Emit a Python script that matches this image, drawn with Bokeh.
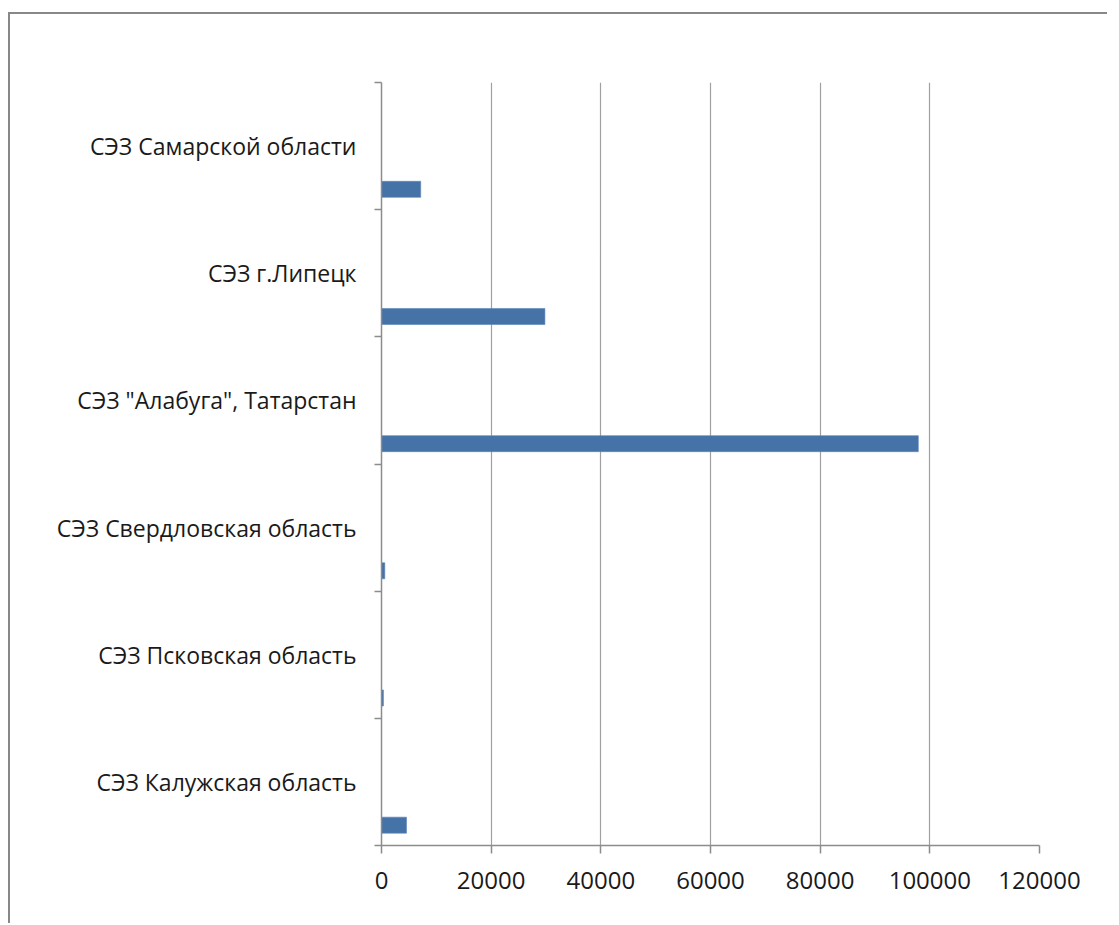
from bokeh.plotting import figure
from bokeh.models import Range1d, FixedTicker, ColumnDataSource, BasicTickFormatter
from bokeh.transform import dodge
from bokeh.embed import file_html
from bokeh.resources import INLINE

categories = [
    "СЭЗ Калужская область",
    "СЭЗ Псковская область",
    "СЭЗ Свердловская область",
    'СЭЗ "Алабуга", Татарстан',
    "СЭЗ г.Липецк",
    "СЭЗ Самарской области",
]
values = [4560, 350, 600, 97900, 29800, 7150]
x_ticks = [0, 20000, 40000, 60000, 80000, 100000, 120000]

n = len(categories)
pos = list(range(n))
src = ColumnDataSource(dict(cat=categories, val=values, pos=pos))

GRAY = "#8c8c8c"
FONT = "Open Sans"

p = figure(
    output_backend="svg",
    toolbar_location=None,
    frame_width=658,
    frame_height=763,
    min_border_left=371,
    min_border_right=68,
    min_border_top=68,
    min_border_bottom=78,
    x_range=Range1d(x_ticks[0], x_ticks[-1]),
    y_range=Range1d(0, n),
)
p.styles = {
    "border-top": "2px solid #888888",
    "border-left": "2px solid #888888",
    "margin-top": "12px",
    "margin-left": "8px",
}
p.outline_line_color = None
p.background_fill_color = "white"
p.border_fill_color = "white"

p.hbar(y=dodge("pos", 0.16), left=0, right="val", height=0.126,
       source=src, fill_color="#4572A7", line_color="#5b84b8", line_width=0.6)

# x axis
xa = p.xaxis[0]
xa.ticker = FixedTicker(ticks=x_ticks, minor_ticks=[])
xa.formatter = BasicTickFormatter(use_scientific=False)
xa.axis_line_color = GRAY
xa.axis_line_width = 1.5
xa.major_tick_line_color = GRAY
xa.major_tick_line_width = 1.5
xa.major_tick_out = 8
xa.major_tick_in = 0
xa.minor_tick_line_color = None
xa.major_label_text_font = FONT
xa.major_label_text_font_size = "24px"
xa.major_label_text_color = "#1a1a1a"
xa.major_label_standoff = 18

# y axis
ya = p.yaxis[0]
ya.ticker = FixedTicker(ticks=[i + 0.5 for i in pos], minor_ticks=pos + [n])
ya.major_label_overrides = {i + 0.5: c for i, c in zip(pos, categories)}
ya.axis_line_color = GRAY
ya.axis_line_width = 1.5
ya.major_tick_line_color = None
ya.major_tick_out = 0
ya.major_tick_in = 0
ya.minor_tick_line_color = GRAY
ya.minor_tick_line_width = 1.5
ya.minor_tick_out = 7
ya.minor_tick_in = 0
ya.major_label_text_font = FONT
ya.major_label_text_font_size = "23px"
ya.major_label_text_color = "#1a1a1a"
ya.major_label_standoff = 18

p.xgrid.ticker = FixedTicker(ticks=x_ticks)
p.xgrid.grid_line_color = "#a0a0a0"
p.xgrid.grid_line_width = 1.2
p.ygrid.grid_line_color = None

open("out.html", "w").write(file_html(p, INLINE))
